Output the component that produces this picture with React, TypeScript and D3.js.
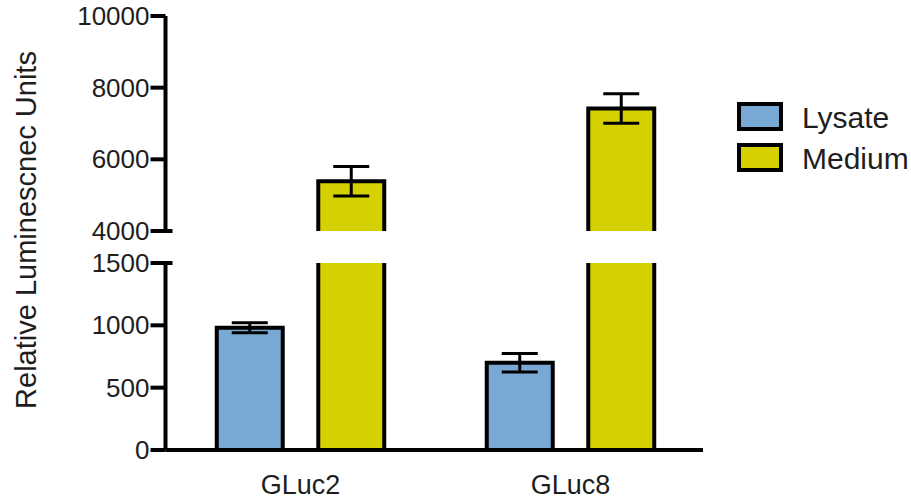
import React from "react";
import * as d3 from "d3";

// Luciferase readout per construct, lysate vs. conditioned medium
const categories = ["GLuc2", "GLuc8"];
const seriesNames = ["Lysate", "Medium"];
const lysateMean = [980, 700];
const lysateErr = [40, 75];
const mediumMean = [5390, 7420];
const mediumErr = [410, 410];
const lowerTicks = [0, 500, 1000, 1500];
const upperTicks = [4000, 6000, 8000, 10000];
const colors = ["#78A9D5", "#D5D000"];

const W = 911;
const H = 501;
const FONT = "'Liberation Sans', Arial, Helvetica, sans-serif";
const TEXT = "#1e1e1e";

export default function App() {
  const axisX = 165.5;
  const xGroup = d3.scaleBand<string>().domain(categories).range([165.5, 705.5]);
  const xSeries = d3
    .scaleBand<string>()
    .domain(seriesNames)
    .range([0, xGroup.bandwidth()])
    .paddingInner(0.35)
    .paddingOuter(0.505);

  // broken y axis: two linear segments
  const yLow = d3.scaleLinear().domain([0, 1500]).range([450, 263]);
  const yHigh = d3.scaleLinear().domain([4000, 10000]).range([231, 16]);

  // value -> pixel across the break
  const yAny = (v: number) => (v <= 1500 ? yLow(v) : yHigh(v));

  const bw = xSeries.bandwidth();
  const barStroke = 4;

  const bars: React.ReactNode[] = [];
  const errs: React.ReactNode[] = [];

  categories.forEach((cat, i) => {
    // Lysate: fully inside the lower segment
    const lx = (xGroup(cat) as number) + (xSeries("Lysate") as number);
    const ly = yLow(lysateMean[i]);
    bars.push(
      <g key={"l" + i}>
        <rect x={lx} y={ly} width={bw} height={yLow(0) - ly} fill={colors[0]} />
        <path
          d={`M${lx},${yLow(0)} V${ly} H${lx + bw} V${yLow(0)}`}
          fill="none"
          stroke="#000"
          strokeWidth={barStroke}
          strokeLinejoin="miter"
        />
      </g>
    );
    // Medium: split across the break
    const mx = (xGroup(cat) as number) + (xSeries("Medium") as number);
    const my = yHigh(mediumMean[i]);
    const brkTop = yHigh(4000);
    const brkBot = yLow(1500);
    bars.push(
      <g key={"m" + i}>
        <rect x={mx} y={my} width={bw} height={brkTop - my} fill={colors[1]} />
        <path
          d={`M${mx},${brkTop} V${my} H${mx + bw} V${brkTop}`}
          fill="none"
          stroke="#000"
          strokeWidth={barStroke}
        />
        <rect x={mx} y={brkBot} width={bw} height={yLow(0) - brkBot} fill={colors[1]} />
        <path
          d={`M${mx},${brkBot} V${yLow(0)} M${mx + bw},${brkBot} V${yLow(0)}`}
          fill="none"
          stroke="#000"
          strokeWidth={barStroke}
        />
      </g>
    );

    const cap = 18;
    const pushErr = (key: string, cx: number, mean: number, e: number) => {
      const t = yAny(mean + e);
      const b = yAny(mean - e);
      errs.push(
        <path
          key={key}
          d={`M${cx},${t} V${b} M${cx - cap},${t} H${cx + cap} M${cx - cap},${b} H${cx + cap}`}
          stroke="#000"
          strokeWidth={3}
          fill="none"
        />
      );
    };
    pushErr("el" + i, lx + bw / 2, lysateMean[i], lysateErr[i]);
    pushErr("em" + i, mx + bw / 2, mediumMean[i], mediumErr[i]);
  });

  const tickLen = 15;
  const tickLabel = (y: number, v: number) => (
    <text
      key={"t" + v}
      x={axisX - tickLen - 1}
      y={y}
      textAnchor="end"
      dominantBaseline="central"
      fontSize={26}
      fill={TEXT}
    >
      {v}
    </text>
  );

  return (
    <svg
      width={W}
      height={H}
      style={{ position: "absolute", left: 0, top: 0, background: "#fff" }}
      fontFamily={FONT}
    >
      {bars}
      {errs}

      {/* upper axis segment */}
      <line x1={axisX} x2={axisX} y1={yHigh(10000)} y2={yHigh(4000)} stroke="#000" strokeWidth={4} />
      {upperTicks.map((v) => (
        <line
          key={"ut" + v}
          x1={axisX - tickLen}
          x2={v === 4000 ? axisX + 7 : axisX}
          y1={yHigh(v)}
          y2={yHigh(v)}
          stroke="#000"
          strokeWidth={4}
        />
      ))}
      {upperTicks.map((v) => tickLabel(yHigh(v), v))}

      {/* lower axis segment */}
      <line x1={axisX} x2={axisX} y1={yLow(1500)} y2={yLow(0)} stroke="#000" strokeWidth={4} />
      {lowerTicks.map((v) => (
        <line
          key={"lt" + v}
          x1={axisX - tickLen}
          x2={v === 1500 ? axisX + 7 : axisX}
          y1={yLow(v)}
          y2={yLow(v)}
          stroke="#000"
          strokeWidth={4}
        />
      ))}
      {lowerTicks.map((v) => tickLabel(yLow(v), v))}

      {/* x axis */}
      <line x1={axisX} x2={703} y1={yLow(0)} y2={yLow(0)} stroke="#000" strokeWidth={4} />
      {categories.map((c) => (
        <text
          key={c}
          x={(xGroup(c) as number) + xGroup.bandwidth() / 2}
          y={494}
          textAnchor="middle"
          fontSize={27}
          fill={TEXT}
        >
          {c}
        </text>
      ))}

      {/* y axis title */}
      <text
        transform={`translate(36,230) rotate(-90)`}
        textAnchor="middle"
        fontSize={29}
        fill={TEXT}
      >
        Relative Luminescnec Units
      </text>

      {/* legend */}
      {seriesNames.map((s, i) => (
        <g key={s} transform={`translate(739,${104 + i * 41})`}>
          <rect x={0} y={0} width={42} height={25} fill={colors[i]} stroke="#000" strokeWidth={4} />
          <text x={63} y={13} dominantBaseline="central" fontSize={30} fill={TEXT}>
            {s}
          </text>
        </g>
      ))}
    </svg>
  );
}
